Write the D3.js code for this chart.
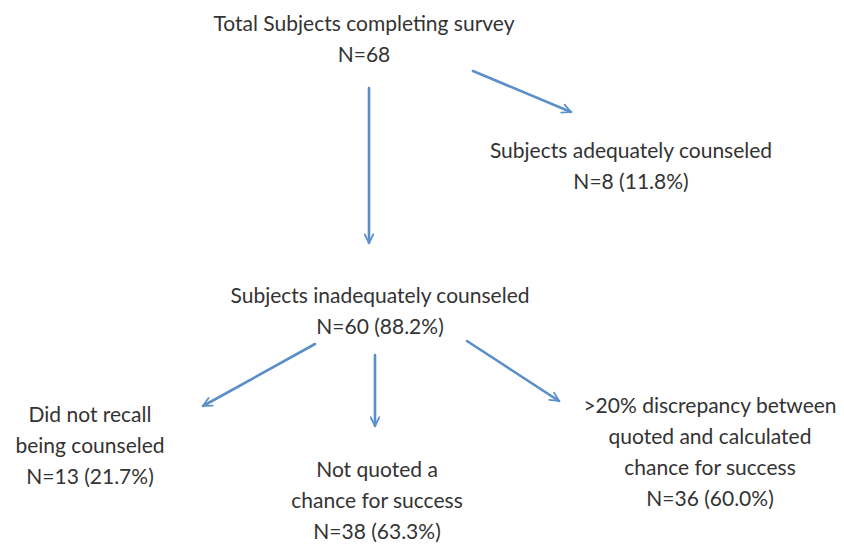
<!DOCTYPE html>
<html>
<head>
<meta charset="utf-8">
<script src="https://cdn.jsdelivr.net/npm/d3@7"></script>
<style>
  html, body { margin: 0; padding: 0; background: #fff; }
  svg { display: block; }
</style>
</head>
<body>
<svg id="chart" width="844" height="544"></svg>
<script>
// ---- data ----
const nodeIds = ["total", "adequate", "inadequate", "norecall", "notquoted", "discrepancy"];
const nodeLabels = [
  ["Total Subjects completing survey"],
  ["Subjects adequately counseled"],
  ["Subjects inadequately counseled"],
  ["Did not recall", "being counseled"],
  ["Not quoted a", "chance for success"],
  [">20% discrepancy between", "quoted and calculated", "chance for success"]
];
const nodeN = [68, 8, 60, 13, 38, 36];
const nodePct = [null, "11.8%", "88.2%", "21.7%", "63.3%", "60.0%"];
const linkSources = ["total", "total", "inadequate", "inadequate", "inadequate"];
const linkTargets = ["adequate", "inadequate", "norecall", "notquoted", "discrepancy"];

// ---- layout (positions only) ----
const nodePos = {
  total:       { x: 364, y: 31 },
  adequate:    { x: 631, y: 158 },
  inadequate:  { x: 380, y: 303 },
  norecall:    { x: 90,  y: 422 },
  notquoted:   { x: 377, y: 477 },
  discrepancy: { x: 710, y: 413 }
};
const arrowPos = {
  "total>adequate":         { x1: 473, y1: 71,  x2: 571, y2: 112 },
  "total>inadequate":       { x1: 369, y1: 88,  x2: 369, y2: 243 },
  "inadequate>norecall":    { x1: 315, y1: 344, x2: 203, y2: 406 },
  "inadequate>notquoted":   { x1: 375, y1: 355, x2: 375, y2: 426 },
  "inadequate>discrepancy": { x1: 467, y1: 341, x2: 559, y2: 401 }
};
const lineGap = 31;
const arrowColor = "#5b8fc9";
const textColor = "#333333";

const svg = d3.select("#chart");

svg.append("defs").append("marker")
  .attr("id", "head")
  .attr("viewBox", "0 0 10 10")
  .attr("refX", 9).attr("refY", 5)
  .attr("markerWidth", 4.2).attr("markerHeight", 4.2)
  .attr("markerUnits", "strokeWidth")
  .attr("orient", "auto")
  .append("path")
  .attr("d", "M1,1 L9,5 L1,9")
  .attr("fill", "none")
  .attr("stroke", arrowColor)
  .attr("stroke-width", 1.6)
  .attr("stroke-linecap", "round")
  .attr("stroke-linejoin", "round");

const nodes = nodeIds.map((id, i) => ({
  id,
  lines: nodeLabels[i].concat(["N=" + nodeN[i] + (nodePct[i] ? " (" + nodePct[i] + ")" : "")])
}));
const links = linkSources.map((s, i) => ({ source: s, target: linkTargets[i] }));

svg.append("g").selectAll("line")
  .data(links)
  .join("line")
  .attr("x1", d => arrowPos[d.source + ">" + d.target].x1)
  .attr("y1", d => arrowPos[d.source + ">" + d.target].y1)
  .attr("x2", d => arrowPos[d.source + ">" + d.target].x2)
  .attr("y2", d => arrowPos[d.source + ">" + d.target].y2)
  .attr("stroke", arrowColor)
  .attr("stroke-width", 2.6)
  .attr("stroke-linecap", "round")
  .attr("marker-end", "url(#head)");

const g = svg.append("g").selectAll("text")
  .data(nodes)
  .join("text")
  .attr("x", d => nodePos[d.id].x)
  .attr("y", d => nodePos[d.id].y)
  .attr("text-anchor", "middle")
  .attr("fill", textColor)
  .style("font-family", "Lato, 'Open Sans', sans-serif")
  .style("font-size", "21px");

g.selectAll("tspan")
  .data(d => d.lines.map(l => ({ l, x: nodePos[d.id].x })))
  .join("tspan")
  .attr("x", d => d.x)
  .attr("dy", (d, i) => i === 0 ? 0 : lineGap)
  .text(d => d.l);
</script>
</body>
</html>
